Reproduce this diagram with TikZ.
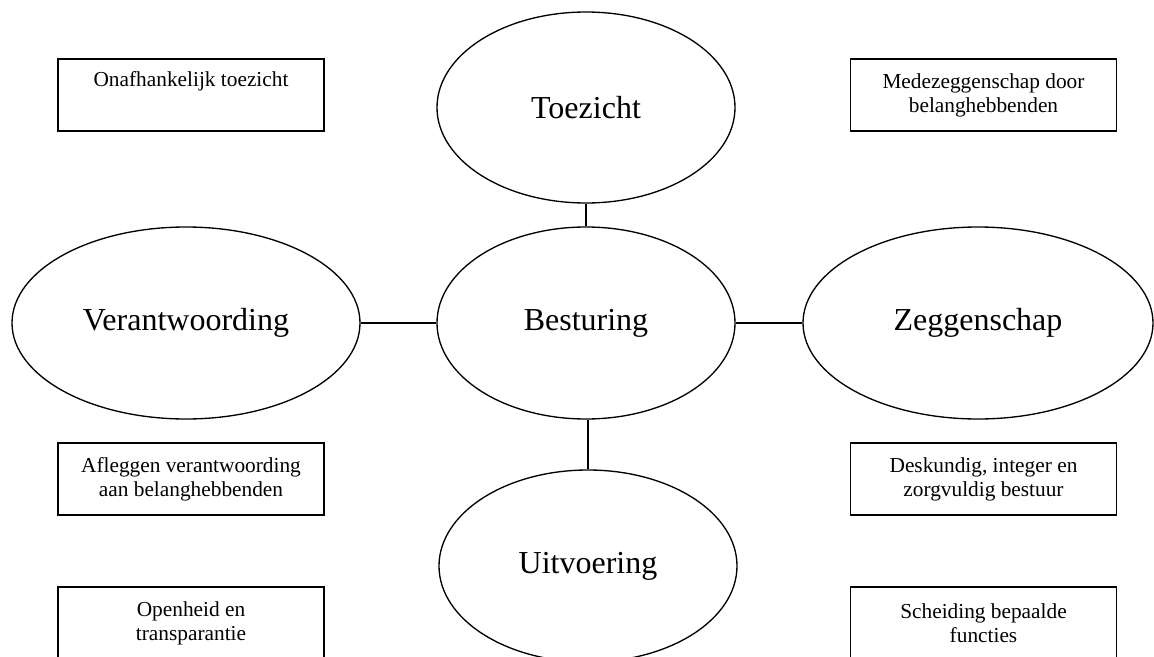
\documentclass[tikz,border=0pt]{standalone}
\usepackage{fontspec}
\setmainfont{Liberation Serif}
\usetikzlibrary{shapes.geometric}
\tikzset{
  bol/.style={draw, ellipse, line width=1pt, inner sep=0pt, minimum width=223.5pt, minimum height=144pt, font=\fontsize{24}{28}\selectfont},
  kader/.style={draw, rectangle, line width=1.2pt, inner sep=0pt, minimum width=199.5pt, minimum height=54pt, align=center, font=\fontsize{16}{18}\selectfont},
}
\begin{document}
\begin{tikzpicture}[x=0.75pt,y=0.75pt,yscale=-1,xscale=1]
    \useasboundingbox (0,0) rectangle (1154,657);
    %Shape: Ellipse
    \node[bol, minimum height=143.25pt] (toezicht) at (586,107.5) {Toezicht};
    %Shape: Ellipse
    \node[bol] (besturing) at (586,323) {Besturing};
    %Shape: Ellipse
    \node[bol, minimum width=261pt] (verantw) at (186,323) {Verantwoording};
    %Shape: Ellipse
    \node[bol, minimum width=262.5pt] (zeggen) at (978,323) {Zeggenschap};
    %Shape: Ellipse
    \node[bol] (uitvoer) at (588,566) {Uitvoering};
    %Straight Lines
    \draw[line width=1pt] (toezicht) -- (besturing);
    \draw[line width=1pt] (uitvoer.north) -- (uitvoer.north |- besturing.south);
    \draw[line width=1pt] (verantw) -- (besturing);
    \draw[line width=1pt] (besturing) -- (zeggen);
    % Text Node
    \node[kader] (onafh) at (191,95) {Onafhankelijk toezicht\\ \strut};
    % Text Node
    \node[kader] (medez) at (983.5,95) {Medezeggenschap door\\ belanghebbenden};
    % Text Node
    \node[kader] (afleg) at (191,479) {Afleggen verantwoording\\ aan belanghebbenden};
    % Text Node
    \node[kader] (deskun) at (983.5,479) {Deskundig, integer en\\ zorgvuldig bestuur};
    % Text Node
    \node[kader] (openh) at (191,623) {Openheid en\\ transparantie};
    % Text Node
    \node[kader] (scheid) at (983.5,623) {Scheiding bepaalde\\ functies};
\end{tikzpicture}
\end{document}
